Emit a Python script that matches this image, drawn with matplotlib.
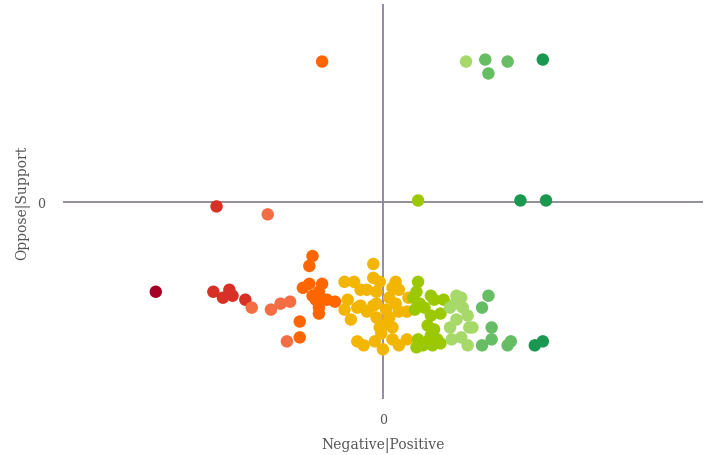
import matplotlib
matplotlib.use("Agg")
import matplotlib.pyplot as plt

# sentiment (x) vs stance (y), one list per colour bin
dark_red_x = [-0.71]
dark_red_y = [-0.45]

red_x = [-0.52, -0.53, -0.48, -0.50, -0.47, -0.43]
red_y = [-0.02, -0.45, -0.44, -0.48, -0.47, -0.49]

salmon_x = [-0.36, -0.41, -0.35, -0.32, -0.29, -0.30]
salmon_y = [-0.06, -0.53, -0.54, -0.51, -0.50, -0.70]

orange_x = [-0.19, -0.22, -0.23, -0.25, -0.23, -0.19, -0.22, -0.20, -0.175, -0.15,
            -0.20, -0.20, -0.26, -0.26, -0.21]
orange_y = [0.71, -0.27, -0.32, -0.43, -0.41, -0.41, -0.47, -0.45, -0.49, -0.50,
            -0.56, -0.53, -0.60, -0.68, -0.49]

yellow_x = [-0.03, -0.12, -0.09, -0.07, -0.03, -0.01, 0.04, 0.03, 0.05, -0.05,
            -0.02, 0.02, -0.11, -0.07, -0.03, -0.02, 0.04, -0.12, -0.08, -0.05,
            0.01, 0.05, 0.075, 0.08, -0.10, -0.02, 0.02, -0.01, 0.03, -0.08,
            -0.06, -0.025, 0.0, 0.03, 0.05, 0.075, 0.0, -0.005]
yellow_y = [-0.31, -0.40, -0.40, -0.44, -0.38, -0.40, -0.40, -0.43, -0.44, -0.44,
            -0.45, -0.48, -0.49, -0.52, -0.52, -0.51, -0.51, -0.54, -0.53, -0.55,
            -0.54, -0.55, -0.55, -0.48, -0.59, -0.58, -0.58, -0.63, -0.63, -0.70,
            -0.72, -0.70, -0.74, -0.69, -0.72, -0.69, -0.62, -0.66]

ygreen_x = [0.11, 0.11, 0.105, 0.095, 0.15, 0.16, 0.19, 0.115, 0.10, 0.13, 0.15,
            0.18, 0.14, 0.16, 0.15, 0.11, 0.14, 0.17, 0.18, 0.105, 0.125, 0.155]
ygreen_y = [0.01, -0.40, -0.45, -0.48, -0.47, -0.49, -0.49, -0.51, -0.54, -0.53, -0.57,
            -0.56, -0.62, -0.64, -0.67, -0.69, -0.70, -0.69, -0.71, -0.73, -0.72, -0.72]

lgreen_x = [0.26, 0.23, 0.225, 0.25, 0.21, 0.265, 0.23, 0.21, 0.27, 0.215, 0.245,
            0.265, 0.28, 0.245]
lgreen_y = [0.71, -0.47, -0.51, -0.53, -0.53, -0.57, -0.59, -0.63, -0.63, -0.69, -0.68,
            -0.72, -0.63, -0.48]

green_x = [0.32, 0.33, 0.39, 0.33, 0.31, 0.34, 0.34, 0.31, 0.39, 0.40]
green_y = [0.72, 0.65, 0.71, -0.47, -0.53, -0.63, -0.69, -0.72, -0.72, -0.70]

dark_green_x = [0.50, 0.43, 0.51, 0.475, 0.50]
dark_green_y = [0.72, 0.01, 0.01, -0.72, -0.70]

groups = [
    (dark_red_x, dark_red_y, "#a50026"),
    (red_x, red_y, "#d73027"),
    (salmon_x, salmon_y, "#f46d43"),
    (orange_x, orange_y, "#ff6600"),
    (yellow_x, yellow_y, "#f2b600"),
    (ygreen_x, ygreen_y, "#9bc800"),
    (lgreen_x, lgreen_y, "#a6d96a"),
    (green_x, green_y, "#66bd63"),
    (dark_green_x, dark_green_y, "#1a9850"),
]

plt.rcParams['font.family'] = 'DejaVu Serif'

fig = plt.figure(figsize=(7.12, 4.56), dpi=100)
ax = fig.add_axes([0.0885, 0.123, 0.8985, 0.866])

# the two zero lines
ax.axhline(0, color="#8a8590", lw=1.3, zorder=1)
ax.axvline(0, color="#8f80a3", lw=1.3, zorder=1)

for xs, ys, col in groups:
    ax.scatter(xs, ys, s=80, c=col, edgecolors="none", zorder=2)

ax.set_xlim(-1, 1)
ax.set_ylim(-0.99, 1.0)
for s in ax.spines.values():
    s.set_visible(False)

ax.set_xticks([0])
ax.set_yticks([0])
ax.tick_params(length=0, labelsize=9, colors="#555555")
ax.tick_params(axis='x', pad=10)
ax.tick_params(axis='y', pad=13)
ax.set_xlabel("Negative|Positive", fontsize=10, color="#555555", labelpad=8)
ax.set_ylabel("Oppose|Support", fontsize=10, color="#555555", labelpad=5)

fig.savefig("out.png", dpi=100)
